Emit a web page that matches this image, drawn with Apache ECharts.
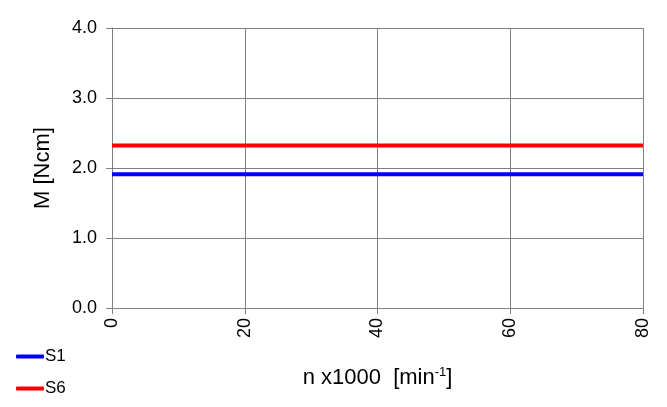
<!DOCTYPE html>
<html>
<head>
<meta charset="utf-8">
<script src="https://cdn.jsdelivr.net/npm/echarts@6/dist/echarts.min.js"></script>
<style>html,body{margin:0;padding:0;background:#fff;}#c{width:667px;height:407px;}</style>
</head>
<body>
<div id="c"></div>
<script>
const xRange = [0, 80];
const seriesNames = ['S1', 'S6'];
const s1Values = [1.91, 1.91];
const s6Values = [2.32, 2.32];
const seriesColors = ['#0000ff', '#ff0000'];

const chart = echarts.init(document.getElementById('c'));
const font = 'Liberation Sans, Arial, sans-serif';
const mk = (vals) => vals.map((v, i) => [xRange[i], v]);
chart.setOption({
  animation: false,
  textStyle: { fontFamily: font },
  grid: { left: 112, right: 24, top: 28, bottom: 99 },
  legend: {
    orient: 'vertical', left: 11, top: 343, itemGap: 15,
    icon: 'roundRect', itemWidth: 28, itemHeight: 4,
    textStyle: { fontSize: 17, color: '#000', fontFamily: font, padding: [0, 0, 0, -4] },
    data: seriesNames
  },
  xAxis: {
    type: 'value', min: 0, max: 80, interval: 20,
    name: 'n x1000  [min{sup|-1}]', nameLocation: 'middle', nameGap: 58,
    nameTextStyle: { fontSize: 22, color: '#000', fontFamily: font,
      rich: { sup: { fontSize: 13, verticalAlign: 'top', padding: [0,0,10,0], color: '#000', fontFamily: font } } },
    axisLine: { show: true, lineStyle: { color: '#808080', width: 1 } },
    axisTick: { show: true, inside: false, length: 6, lineStyle: { color: '#808080' } },
    axisLabel: { rotate: 90, fontSize: 18, color: '#000', margin: 10, fontFamily: font },
    splitLine: { show: true, lineStyle: { color: '#808080', width: 1 } }
  },
  yAxis: {
    type: 'value', min: 0, max: 4, interval: 1,
    name: 'M [Ncm]', nameLocation: 'middle', nameGap: 58, nameRotate: 90,
    nameTextStyle: { fontSize: 22, color: '#000', fontFamily: font },
    axisLine: { show: true, lineStyle: { color: '#808080', width: 1 } },
    axisTick: { show: true, inside: false, length: 6, lineStyle: { color: '#808080' } },
    axisLabel: { fontSize: 18, color: '#000', margin: 15, fontFamily: font, formatter: v => v.toFixed(1) },
    splitLine: { show: true, lineStyle: { color: '#808080', width: 1 } }
  },
  series: [
    { name: seriesNames[0], type: 'line', data: mk(s1Values), symbol: 'none', color: seriesColors[0], lineStyle: { width: 4, color: seriesColors[0] } },
    { name: seriesNames[1], type: 'line', data: mk(s6Values), symbol: 'none', color: seriesColors[1], lineStyle: { width: 4, color: seriesColors[1] } }
  ]
});
</script>
</body>
</html>
